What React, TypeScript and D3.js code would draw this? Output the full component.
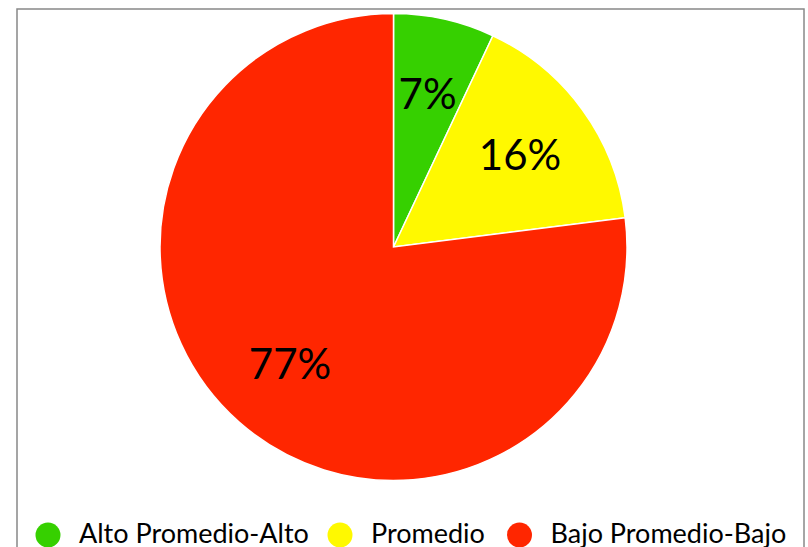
import React from "react";
import * as d3 from "d3";

const categories = ["Alto Promedio-Alto", "Promedio", "Bajo Promedio-Bajo"];
const values = [7, 16, 77];
const labels = ["7%", "16%", "77%"];
const colors = ["#36D000", "#FFF900", "#FF2600"];

const W = 808;
const H = 547;

export default function App() {
  const cx = 393.5;
  const cy = 247;
  const r = 233.5;
  const pie = d3.pie<number>().sort(null).value((d) => d)(values);
  const arc = d3.arc<d3.PieArcDatum<number>>().innerRadius(0).outerRadius(r);
  const lr = r * 0.67;
  const labelArc = d3.arc<d3.PieArcDatum<number>>().innerRadius(lr).outerRadius(lr);
  const legendX = [48, 340, 519.5];
  return (
    <svg
      width={W}
      height={H}
      style={{ position: "absolute", left: 0, top: 0, display: "block", background: "#fff" }}
      fontFamily="Lato, 'Open Sans', sans-serif"
    >
      <rect x={17} y={9} width={787} height={560} fill="#fff" stroke="#888" strokeWidth={1.5} />
      <g transform={`translate(${cx},${cy})`}>
        {pie.map((p, i) => (
          <path key={i} d={arc(p) || ""} fill={colors[i]} stroke="#fff" strokeWidth={1.5} />
        ))}
        {pie.map((p, i) => {
          const [x, y] = labelArc.centroid(p);
          return (
            <text key={i} x={x} y={y + 15} textAnchor="middle" fontSize={42} fill="#000">
              {labels[i]}
            </text>
          );
        })}
      </g>
      {categories.map((c, i) => (
        <g key={c}>
          <circle cx={legendX[i]} cy={535} r={12.5} fill={colors[i]} />
          <text x={legendX[i] + 31} y={543} fontSize={27} fill="#000">
            {c}
          </text>
        </g>
      ))}
    </svg>
  );
}
